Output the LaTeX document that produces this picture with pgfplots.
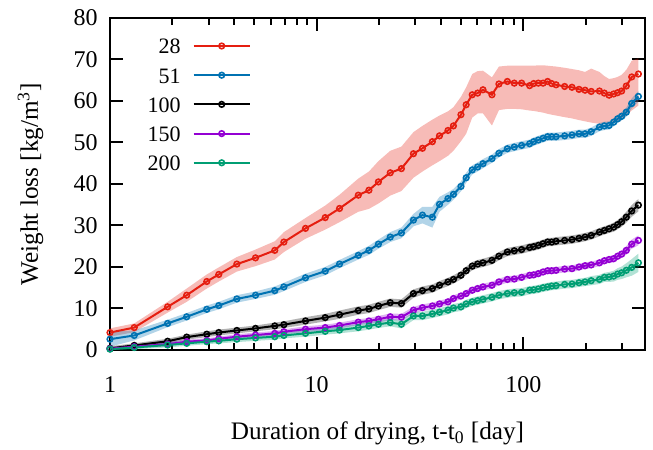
\documentclass[12pt,border=0pt]{standalone}
\usepackage{fontspec}
\setmainfont{Liberation Serif}
\usepackage{pgfplots}
\pgfplotsset{compat=1.18}
\usepgfplotslibrary{fillbetween}
\usepackage{pgfplotstable}
\definecolor{cR}{HTML}{E51E10}
\definecolor{cB}{HTML}{0072B2}
\definecolor{cP}{HTML}{9400D3}
\definecolor{cG}{HTML}{009E73}
\pgfplotstableread{
t r rl rh b be k ke p pe g ge
1 4.2 3.2 5.2 2.6 1.8 0.4 0.5 0.3 0.4 0.2 0.4
1.31 5.4 4.3 6.4 3.5 1.2 1.1 0.5 0.8 0.4 0.6 0.4
1.90 10.4 9.0 11.6 6.4 0.9 2.1 0.6 1.4 0.5 1.2 0.6
2.35 13.2 11.6 14.8 8.0 0.9 3.1 0.6 2.0 0.5 1.6 0.6
2.94 16.5 14.8 18.2 9.8 0.9 3.8 0.7 2.3 0.5 2.0 0.6
3.36 18.2 16.5 19.9 10.7 0.9 4.2 0.7 2.7 0.5 2.2 0.6
4.11 20.7 18.9 22.4 12.3 0.9 4.7 0.7 3.2 0.6 2.6 0.7
5.06 22.2 20.2 24.2 13.2 0.9 5.2 0.7 3.6 0.6 2.9 0.7
6.27 24.0 21.8 26.2 14.3 1.0 5.8 0.8 4.0 0.6 3.2 0.7
6.94 26.0 23.6 28.4 15.2 1.0 6.1 0.8 4.4 0.6 3.5 0.7
8.83 29.3 26.8 31.8 17.4 1.0 7.0 0.9 5.0 0.7 4.0 0.8
11.0 31.9 29.0 34.8 19.0 1.0 7.8 0.9 5.4 0.7 4.5 0.8
12.9 34.1 30.8 37.4 20.7 1.0 8.5 1.0 5.9 0.7 4.8 0.8
15.9 37.3 33.3 41.3 22.8 1.0 9.5 1.0 6.7 0.7 5.4 0.9
17.9 38.5 34.0 43.0 24.0 1.1 9.9 1.0 7.0 0.7 5.8 0.9
19.9 40.5 35.3 45.5 25.5 1.1 10.6 1.0 7.4 0.8 6.2 0.9
22.7 42.7 37.2 48.0 27.2 1.2 11.4 1.0 8.0 0.8 6.6 0.9
25.7 43.7 38.3 49.0 28.2 1.3 11.2 1.0 7.9 0.8 6.2 1.0
29.4 47.3 41.5 52.5 31.3 1.5 13.6 1.0 9.6 0.8 8.2 1.0
32.5 48.6 43.0 54.0 32.5 2.0 14.3 1.0 10.2 0.8 8.2 1.0
36.3 50.2 44.5 55.5 32.0 2.5 14.8 1.0 10.6 0.8 8.7 1.0
39.3 51.6 45.5 56.5 35.1 1.8 15.6 1.0 11.1 0.8 9.1 1.0
43.2 52.9 46.8 57.5 36.5 1.5 16.4 1.0 11.6 0.8 9.6 1.0
45.9 54.0 48.0 58.5 37.5 1.3 17.0 1.0 12.4 0.8 10.1 1.0
49.9 56.7 50.3 61.0 39.4 1.2 18.0 1.0 13.0 0.8 10.4 1.0
52.9 59.1 52.1 63.3 41.5 1.2 19.1 1.0 13.6 0.8 11.1 1.0
56.6 61.5 56.0 66.5 43.4 1.1 20.2 1.0 14.4 0.8 11.6 1.0
60.1 61.9 57.0 67.2 44.1 1.1 20.7 1.0 14.8 0.8 11.9 1.0
63.8 62.7 57.0 67.3 44.9 1.1 21.0 1.0 15.2 0.8 12.2 1.0
70.5 61.5 54.1 65.7 46.1 1.0 21.6 1.0 15.6 0.8 12.7 1.0
76.2 64.1 57.8 68.3 47.4 1.0 22.6 1.0 16.4 0.8 13.2 1.0
83.7 64.7 58.1 68.5 48.5 1.0 23.6 1.0 17.0 0.8 13.6 1.0
90.4 64.3 58.1 68.5 48.9 1.0 23.9 1.0 17.1 0.8 13.8 1.0
98.1 64.3 58.0 68.5 49.3 1.0 24.2 1.0 17.5 0.8 13.9 1.0
107.3 63.7 57.7 68.5 49.7 1.0 24.7 1.0 18.0 0.8 14.4 1.0
112.2 64.2 57.6 68.5 50.2 1.0 24.9 1.0 18.1 0.8 14.5 1.0
118.2 64.3 57.4 68.6 50.6 1.0 25.2 1.0 18.4 0.8 14.7 1.0
124.6 64.3 57.2 68.6 51.0 1.0 25.6 1.0 18.8 0.8 15.0 1.0
131.1 64.7 56.9 68.5 51.4 1.0 26.0 1.0 19.1 0.8 15.2 1.0
137.1 64.2 56.7 68.4 51.4 1.0 26.0 1.0 19.1 0.8 15.4 1.0
144 63.9 56.5 68.3 51.4 1.0 26.2 1.0 19.2 0.8 15.5 1.0
158.5 63.5 56.1 68.0 51.6 1.0 26.4 1.0 19.5 0.8 15.8 1.0
172 63.3 55.8 67.7 51.8 1.0 26.6 1.0 19.6 0.8 15.9 1.0
186 62.8 55.4 67.4 52.1 1.0 26.9 1.0 20.0 0.8 16.2 1.0
199 62.6 55.1 67.0 52.1 1.0 27.2 1.0 20.3 0.8 16.4 1.0
213 62.3 54.8 67.8 52.6 1.0 27.6 1.0 20.5 0.8 16.7 1.1
233.5 62.4 54.5 67.0 53.7 1.0 28.4 1.0 21.0 0.8 17.0 1.1
246.7 61.9 54.5 66.0 54.0 1.0 28.8 1.0 21.5 0.8 17.5 1.1
260 61.4 54.5 65.3 54.1 1.0 29.2 1.0 21.8 0.8 17.6 1.2
273.7 61.7 54.7 65.5 54.9 1.0 29.6 1.1 22.0 0.9 17.8 1.3
286 62.0 55.0 65.8 55.7 1.0 30.2 1.1 22.6 0.9 18.3 1.4
299 62.4 55.4 66.3 56.3 1.0 30.9 1.2 23.1 0.9 18.6 1.5
315 63.6 56.5 67.5 57.3 1.1 32.0 1.3 24.0 1.0 19.2 1.7
334.5 65.8 57.7 69.7 59.4 1.2 33.5 1.4 25.5 1.1 19.9 2.0
360.5 66.5 58.9 70.3 61.1 1.3 34.9 1.5 26.4 1.2 21.0 2.2
}\data
\begin{document}
\begin{tikzpicture}
\begin{axis}[
  scale only axis, width=267.5pt, height=166pt,
  xmode=log, xmin=1, xmax=388, ymin=0, ymax=80,
  xtick={1,10,100}, xticklabels={1,10,100},
  minor xtick={2,3,4,5,6,7,8,9,20,30,40,50,60,70,80,90,200,300},
  ytick={0,10,20,30,40,50,60,70,80},
  tick align=inside, major tick length=6.5pt, minor tick length=3.5pt,
  axis line style={line width=1pt},
  tick style={black, line width=1pt},
  /pgf/number format/assume math mode=true,
  xticklabel style={yshift=-9pt},
  yticklabel style={xshift=-2pt},
  xlabel={Duration of drying, t-t\textsubscript{0} [day]},
  ylabel={Weight loss [kg/m\textsuperscript{3}]},
  xlabel style={at={(axis description cs:0.5,0)}, anchor=base, yshift=-45pt, font=\fontsize{12.6}{15}\selectfont},
  ylabel style={at={(axis description cs:0,0.5)}, anchor=base, rotate=0, yshift=36pt, font=\fontsize{12.6}{15}\selectfont},
  legend style={at={(axis description cs:0.066,0.947)}, anchor=north west, draw=none, fill=none,
    inner sep=0pt, row sep=4.6pt, column sep=5pt, font=\fontsize{11}{13}\selectfont,
    nodes={inner sep=1pt, text height=8pt, text depth=0pt},
    cells={anchor=east}},
  legend plot pos=right,
  legend image code/.code={\draw[mark repeat=2,mark phase=2,#1] plot coordinates {(0pt,0pt) (14pt,0pt) (28pt,0pt)};},
  every axis plot/.append style={line width=1pt},
]
% bands
\addplot[draw=none, name path=rU, forget plot] table[x=t,y=rh]{\data};
\addplot[draw=none, name path=rL, forget plot] table[x=t,y=rl]{\data};
\addplot[fill=cR, fill opacity=0.3, draw=none, forget plot] fill between[of=rU and rL];
\addplot[draw=none, name path=bU, forget plot] table[x=t,y expr=\thisrow{b}+\thisrow{be}]{\data};
\addplot[draw=none, name path=bL, forget plot] table[x=t,y expr=\thisrow{b}-\thisrow{be}]{\data};
\addplot[fill=cB, fill opacity=0.3, draw=none, forget plot] fill between[of=bU and bL];
\addplot[draw=none, name path=kU, forget plot] table[x=t,y expr=\thisrow{k}+\thisrow{ke}]{\data};
\addplot[draw=none, name path=kL, forget plot] table[x=t,y expr=\thisrow{k}-\thisrow{ke}]{\data};
\addplot[fill=black, fill opacity=0.3, draw=none, forget plot] fill between[of=kU and kL];
\addplot[draw=none, name path=pU, forget plot] table[x=t,y expr=\thisrow{p}+\thisrow{pe}]{\data};
\addplot[draw=none, name path=pL, forget plot] table[x=t,y expr=\thisrow{p}-\thisrow{pe}]{\data};
\addplot[fill=cP, fill opacity=0.3, draw=none, forget plot] fill between[of=pU and pL];
\addplot[draw=none, name path=gU, forget plot] table[x=t,y expr=\thisrow{g}+\thisrow{ge}]{\data};
\addplot[draw=none, name path=gL, forget plot] table[x=t,y expr=\thisrow{g}-\thisrow{ge}]{\data};
\addplot[fill=cG, fill opacity=0.3, draw=none, forget plot] fill between[of=gU and gL];
% lines
\addplot[cR, mark=o, mark size=1.4pt, mark options={line width=0.8pt}] table[x=t,y=r]{\data};
\addlegendentry{28}
\addplot[cB, mark=o, mark size=1.4pt, mark options={line width=0.8pt}] table[x=t,y=b]{\data};
\addlegendentry{51}
\addplot[black, mark=o, mark size=1.4pt, mark options={line width=0.8pt}] table[x=t,y=k]{\data};
\addlegendentry{100}
\addplot[cP, mark=o, mark size=1.4pt, mark options={line width=0.8pt}] table[x=t,y=p]{\data};
\addlegendentry{150}
\addplot[cG, mark=o, mark size=1.4pt, mark options={line width=0.8pt}] table[x=t,y=g]{\data};
\addlegendentry{200}
\end{axis}
\pgfresetboundingbox
\path[use as bounding box] ([shift={(-55pt,-50pt)}]current axis.south west) rectangle ([shift={(4pt,9pt)}]current axis.north east);
\end{tikzpicture}
\end{document}
